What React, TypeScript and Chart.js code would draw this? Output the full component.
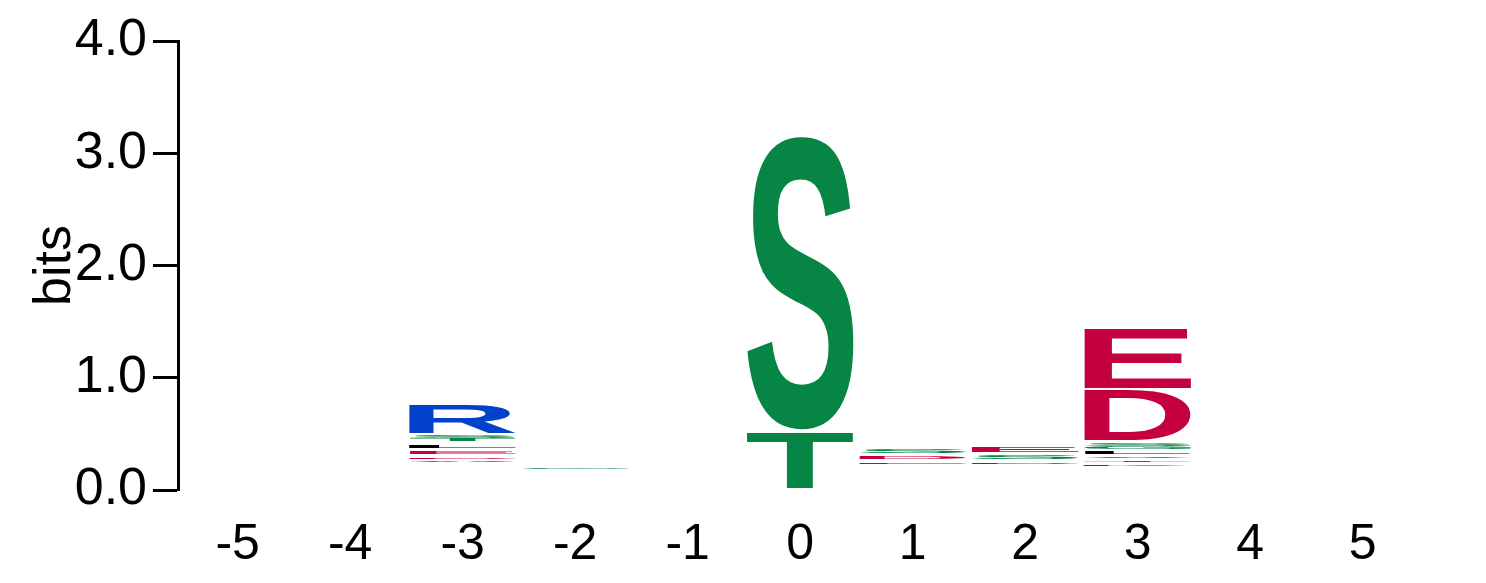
import React, { useEffect, useRef } from "react";
import { Chart, registerables } from "chart.js";

Chart.register(...registerables);

// Sequence positions and their tick labels
const positions = [-5, -4, -3, -2, -1, 0, 1, 2, 3, 4, 5];
const xTickLabels = ["-5", "-4", "-3", "-2", "-1", "0", "1", "2", "3", "4", "5"];
const yTickValues = [0, 1, 2, 3, 4];

// Stacks, bottom to top: [letter, bits]. "" = residual letters too small to see.
const stackM5: [string, number][] = [];
const stackM4: [string, number][] = [];
const stackM3: [string, number][] = [
  ["", 0.249], ["A", 0.009], ["", 0.015], ["D", 0.015], ["", 0.033], ["E", 0.018],
  ["", 0.038], ["L", 0.027], ["", 0.035], ["T", 0.022], ["", 0.005], ["S", 0.018],
  ["", 0.024], ["R", 0.249],
];
const stackM2: [string, number][] = [["", 0.187], ["G", 0.013]];
const stackM1: [string, number][] = [];
const stack0: [string, number][] = [["", 0.015], ["T", 0.49], ["", 0.036], ["S", 2.607]];
const stack1: [string, number][] = [
  ["", 0.234], ["E", 0.015], ["", 0.03], ["D", 0.024], ["", 0.029], ["S", 0.031],
];
const stack2: [string, number][] = [
  ["", 0.234], ["D", 0.015], ["", 0.027], ["S", 0.036], ["", 0.027], ["E", 0.041],
];
const stack3: [string, number][] = [
  ["", 0.214], ["K", 0.011], ["", 0.027], ["T", 0.009], ["", 0.024], ["V", 0.009],
  ["", 0.027], ["L", 0.018], ["", 0.029], ["G", 0.02], ["S", 0.024], ["", 0.036],
  ["D", 0.443], ["", 0.018], ["E", 0.525],
];
const stack4: [string, number][] = [];
const stack5: [string, number][] = [];

const stacks = [stackM5, stackM4, stackM3, stackM2, stackM1, stack0, stack1, stack2, stack3, stack4, stack5];

const BLUE = "#0241c9";
const GREEN = "#078544";
const RED = "#c5003e";
const BLACK = "#000000";
const PURPLE = "#8a2be2";
const letterColors: Record<string, string> = {
  R: BLUE, K: BLUE, H: BLUE,
  S: GREEN, T: GREEN, G: GREEN, Y: GREEN, C: GREEN,
  D: RED, E: RED,
  A: BLACK, V: BLACK, L: BLACK, I: BLACK, P: BLACK, W: BLACK, F: BLACK, M: BLACK,
  Q: PURPLE, N: PURPLE,
};

const FONT = '"Liberation Sans", Arial, Helvetica, sans-serif';

const letterPlugin = {
  id: "logoLetters",
  afterDatasetsDraw(chart: any) {
    const ctx = chart.ctx as CanvasRenderingContext2D;
    chart.data.datasets.forEach((ds: any, di: number) => {
      const meta = chart.getDatasetMeta(di);
      meta.data.forEach((el: any, j: number) => {
        const letter = ds.letters[j];
        if (!letter) return;
        const { x, y, base, width } = el.getProps(["x", "y", "base", "width"], true);
        const h = base - y;
        if (h <= 0) return;
        ctx.save();
        ctx.font = `bold 200px ${FONT}`;
        ctx.textAlign = "left";
        ctx.textBaseline = "alphabetic";
        const m = ctx.measureText(letter);
        const gw = m.actualBoundingBoxLeft + m.actualBoundingBoxRight;
        const gh = m.actualBoundingBoxAscent + m.actualBoundingBoxDescent;
        ctx.translate(x - width / 2, y);
        ctx.scale(width / gw, h / gh);
        ctx.fillStyle = letterColors[letter] || BLACK;
        ctx.fillText(letter, m.actualBoundingBoxLeft, m.actualBoundingBoxAscent);
        ctx.restore();
      });
    });
  },
};

export default function App() {
  const ref = useRef<HTMLCanvasElement>(null);
  useEffect(() => {
    if (!ref.current) return;
    const depth = Math.max(...stacks.map((s) => s.length));
    const datasets = [];
    for (let k = 0; k < depth; k++) {
      datasets.push({
        label: `layer ${k}`,
        data: positions.map((p, i) => ({ x: p, y: stacks[i][k] ? stacks[i][k][1] : 0 })),
        letters: positions.map((_, i) => (stacks[i][k] ? stacks[i][k][0] : "")),
        backgroundColor: "rgba(0,0,0,0)",
        borderWidth: 0,
        barPercentage: 0.95,
        categoryPercentage: 1.0,
      });
    }
    const chart = new Chart(ref.current, {
      type: "bar",
      data: { datasets: datasets as any },
      plugins: [letterPlugin],
      options: {
        responsive: false,
        animation: false,
        layout: { padding: { left: 0, top: 41, right: 67, bottom: 0 } },
        plugins: { legend: { display: false }, tooltip: { enabled: false } },
        scales: {
          x: {
            type: "linear",
            stacked: true,
            offset: false,
            min: -5.53,
            max: 5.5,
            afterBuildTicks: (scale: any) => {
              scale.ticks = positions.map((v) => ({ value: v }));
            },
            afterFit: (scale: any) => {
              scale.height = 93;
            },
            grid: { display: false, drawTicks: false, offset: false },
            border: { display: false },
            ticks: {
              color: "#000",
              font: { family: FONT, size: 50 },
              padding: 25,
              maxRotation: 0,
              autoSkip: false,
              callback: (v: any) => xTickLabels[positions.indexOf(Number(v))] ?? "",
            },
          },
          y: {
            stacked: true,
            min: 0,
            max: 4,
            afterBuildTicks: (scale: any) => {
              scale.ticks = yTickValues.map((v) => ({ value: v }));
            },
            afterFit: (scale: any) => {
              scale.width = 178;
            },
            grid: {
              drawOnChartArea: false,
              drawTicks: true,
              tickLength: 25,
              tickWidth: 3,
              tickColor: "#000",
              color: "#000",
            },
            border: { display: true, color: "#000", width: 3 },
            ticks: {
              color: "#000",
              font: { family: FONT, size: 52 },
              padding: 6,
              callback: (v: any) => Number(v).toFixed(1),
            },
            title: {
              display: true,
              text: "bits",
              color: "#000",
              font: { family: FONT, size: 52 },
              padding: { top: 24, bottom: 0 },
            },
          },
        },
      },
    });
    return () => chart.destroy();
  }, []);
  return (
    <div style={{ position: "fixed", left: 0, top: 0, width: 1486, height: 583, background: "#fff" }}>
      <canvas ref={ref} width={1486} height={583} style={{ display: "block" }} />
    </div>
  );
}
